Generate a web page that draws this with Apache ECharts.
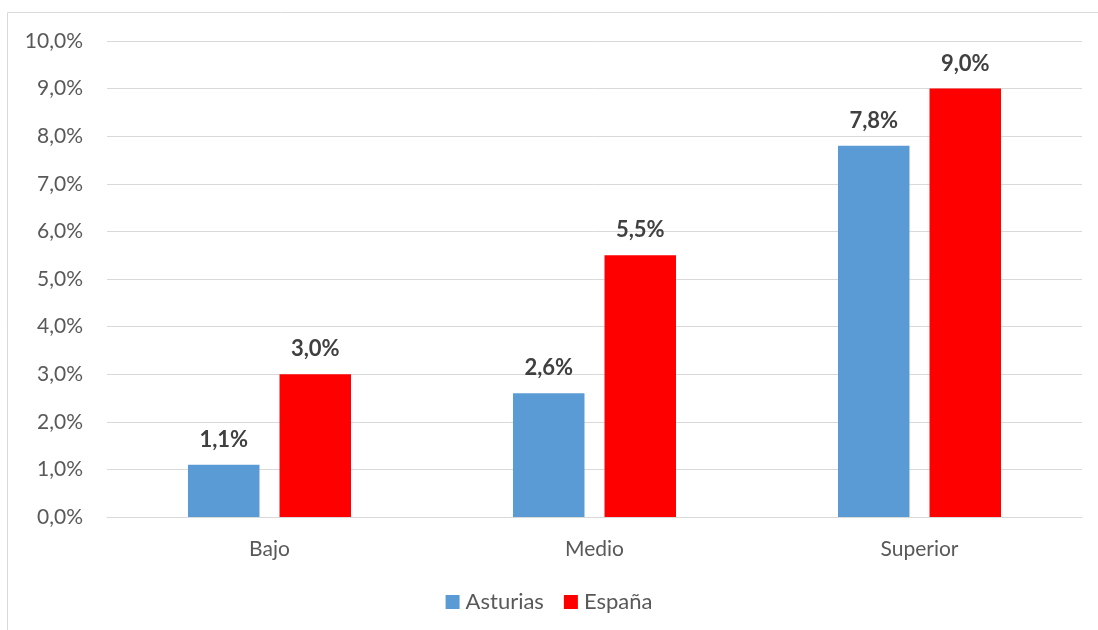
<!DOCTYPE html>
<html><head><meta charset="utf-8">
<script src="https://cdn.jsdelivr.net/npm/echarts@6/dist/echarts.min.js"></script>
<style>html,body{margin:0;padding:0;background:#fff}#c{width:1098px;height:630px}</style>
</head><body><div id="c"></div>
<script>
const categories = ['Bajo', 'Medio', 'Superior'];
const asturias = [1.1, 2.6, 7.8];
const espana = [3.0, 5.5, 9.0];
const seriesNames = ['Asturias', 'España'];
const FONT = 'Lato, "Open Sans", sans-serif';
const fmt = v => v.toFixed(1).replace('.', ',') + '%';
const chart = echarts.init(document.getElementById('c'));
const labelCfg = {
  show: true, position: 'top', distance: 14,
  formatter: p => fmt(p.value),
  fontFamily: FONT, fontSize: 22, fontWeight: 'bold', color: '#404040'
};
chart.setOption({
  animation: false,
  graphic: [{
    type: 'rect', shape: {x: 7.5, y: 12.5, width: 1100, height: 630},
    style: {fill: 'none', stroke: '#d9d9d9', lineWidth: 1}, silent: true
  }],
  grid: {left: 107, right: 16, top: 41, bottom: 113, containLabel: false},
  legend: {
    bottom: 12, left: 'center', itemWidth: 14, itemHeight: 14, itemGap: 20,
    icon: 'rect',
    textStyle: {fontFamily: FONT, fontSize: 22, color: '#595959', padding: [0, 0, 0, 1]},
    data: seriesNames
  },
  xAxis: {
    type: 'category', data: categories,
    axisLine: {lineStyle: {color: '#d9d9d9', width: 1}},
    axisTick: {show: false},
    axisLabel: {fontFamily: FONT, fontSize: 21, color: '#595959', margin: 22}
  },
  yAxis: {
    type: 'value', min: 0, max: 10, interval: 1,
    axisLine: {show: false}, axisTick: {show: false},
    axisLabel: {formatter: v => fmt(v), fontFamily: FONT, fontSize: 21, color: '#595959', margin: 24},
    splitLine: {lineStyle: {color: '#d9d9d9', width: 1}}
  },
  series: [
    {name: seriesNames[0], type: 'bar', data: asturias, barWidth: '22%', barGap: '28%',
     itemStyle: {color: '#5b9bd5'}, label: labelCfg},
    {name: seriesNames[1], type: 'bar', data: espana, barWidth: '22%',
     itemStyle: {color: '#ff0000'}, label: labelCfg}
  ]
});
</script></body></html>
